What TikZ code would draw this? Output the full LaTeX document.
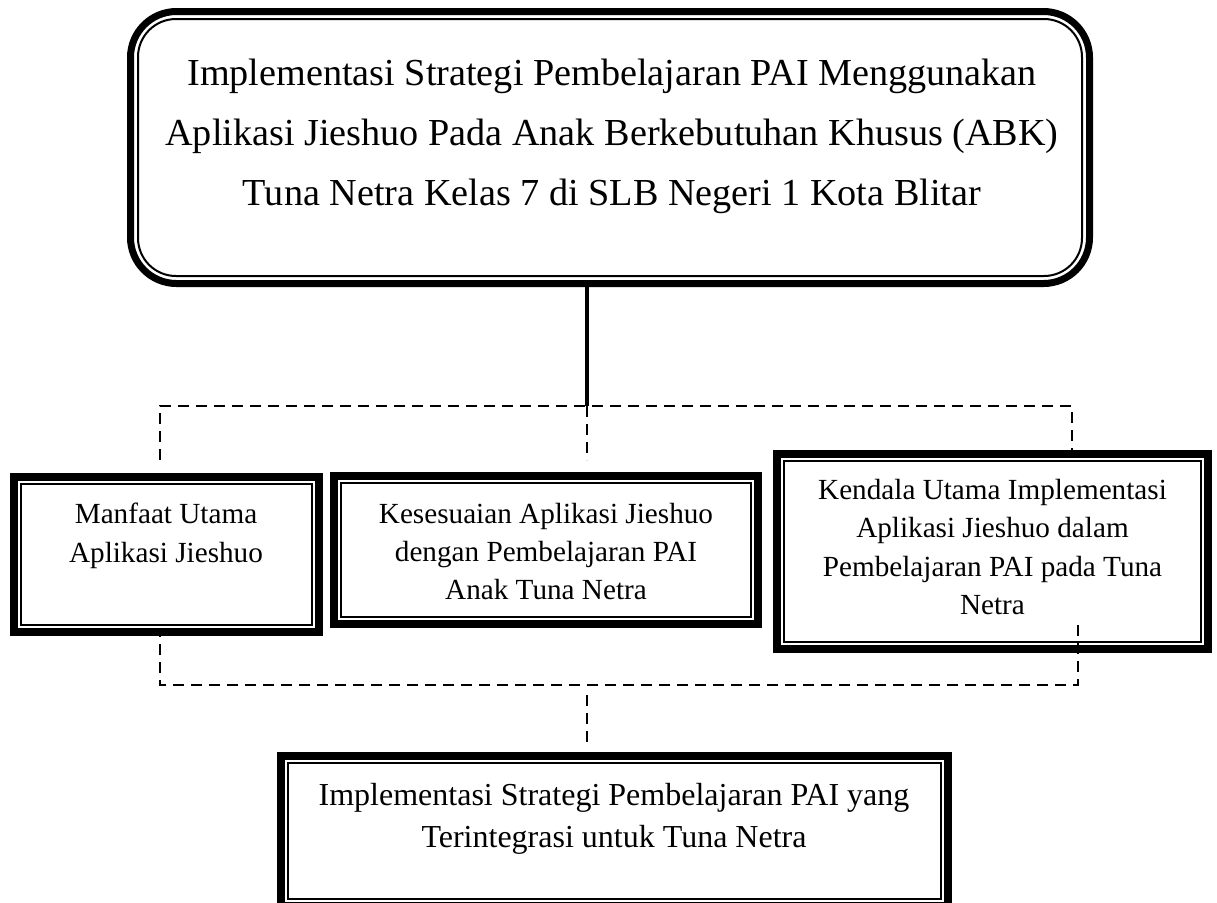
\documentclass[tikz,border=0pt]{standalone}
\usepackage{fontspec}
\setmainfont{Liberation Serif}
\usetikzlibrary{positioning}

\begin{document}
\begin{tikzpicture}[
        x=0.5pt, y=-0.5pt,
        kotak/.style={rectangle, draw, line width=4pt, inner sep=0pt,
            path picture={\draw[line width=1pt] ([shift={(3.5pt,3.5pt)}]path picture bounding box.south west) rectangle ([shift={(-3.5pt,-3.5pt)}]path picture bounding box.north east);}},
        kotakjudul/.style={rectangle, draw, rounded corners=23pt, line width=3.5pt, inner sep=0pt,
            path picture={\draw[line width=1pt, rounded corners=19pt] ([shift={(3.75pt,3.75pt)}]path picture bounding box.south west) rectangle ([shift={(-3.75pt,-3.75pt)}]path picture bounding box.north east);}},
        teks/.style={align=center, inner sep=0pt, font=\fontsize{14.6}{19.2}\selectfont},
        garis/.style={line width=2pt},
        putus/.style={line width=1.3pt, dash pattern=on 5.5pt off 3.5pt}
    ]
    \useasboundingbox (0,0) rectangle (1217,902);

    % Judul
    \node[kotakjudul, minimum width=479.5pt, minimum height=136pt] (judul) at (610,147.5) {};
    \node[teks, font=\fontsize{19.1}{30}\selectfont] (judulteks) at (612,136) {Implementasi Strategi Pembelajaran PAI Menggunakan\\Aplikasi Jieshuo Pada Anak Berkebutuhan Khusus (ABK)\\Tuna Netra Kelas 7 di SLB Negeri 1 Kota Blitar};

    % Manfaat
    \node[kotak, minimum width=152.5pt, minimum height=77.5pt] (manfaat) at (166.5,554.5) {};
    \node[teks] (manfaatteks) at (166,536) {Manfaat Utama\\Aplikasi Jieshuo};

    % Kesesuaian
    \node[kotak, minimum width=212pt, minimum height=74pt] (kesesuaian) at (546,550) {};
    \node[teks] (kesesuaianteks) at (546,551.5) {Kesesuaian Aplikasi Jieshuo\\dengan Pembelajaran PAI\\Anak Tuna Netra};

    % Kendala
    \node[kotak, minimum width=215.5pt, minimum height=97.5pt] (kendala) at (992.5,551.5) {};
    \node[teks] (kendalateks) at (992.5,547) {Kendala Utama Implementasi\\Aplikasi Jieshuo dalam\\Pembelajaran PAI pada Tuna\\Netra};

    % Hasil
    \node[kotak, minimum width=333.5pt, minimum height=74.75pt] (hasil) at (614.5,830.75) {};
    \node[teks, font=\fontsize{16}{20.8}\selectfont] (hasilteks) at (614,818.6) {Implementasi Strategi Pembelajaran PAI yang\\Terintegrasi untuk Tuna Netra};

    % Titik cabang
    \coordinate (pusat) at (587,406);
    \coordinate (kiri) at (160,406);
    \coordinate (kanan) at (1072,406);
    \coordinate (pusatbawah) at (587,685);
    \coordinate (kiribawah) at (160,685);
    \coordinate (kananbawah) at (1078,685);

    % Garis
    \draw[garis] (judul.south -| pusat) -- (pusat);
    \draw[putus, shorten <=6.5pt] (kiri |- manfaat.north) -- (kiri) -- (kanan) -- (kanan |- kendala.north);
    \draw[putus, shorten >=6pt] (pusat) -- (pusat |- kesesuaian.north);
    \draw[putus, shorten <=-14pt] (kananbawah |- kendala.south) -- (kananbawah) -- (kiribawah) -- (kiribawah |- manfaat.south);
    \draw[putus, shorten <=5pt, shorten >=4.5pt] (pusatbawah) -- (pusatbawah |- hasil.north);

\end{tikzpicture}
\end{document}
